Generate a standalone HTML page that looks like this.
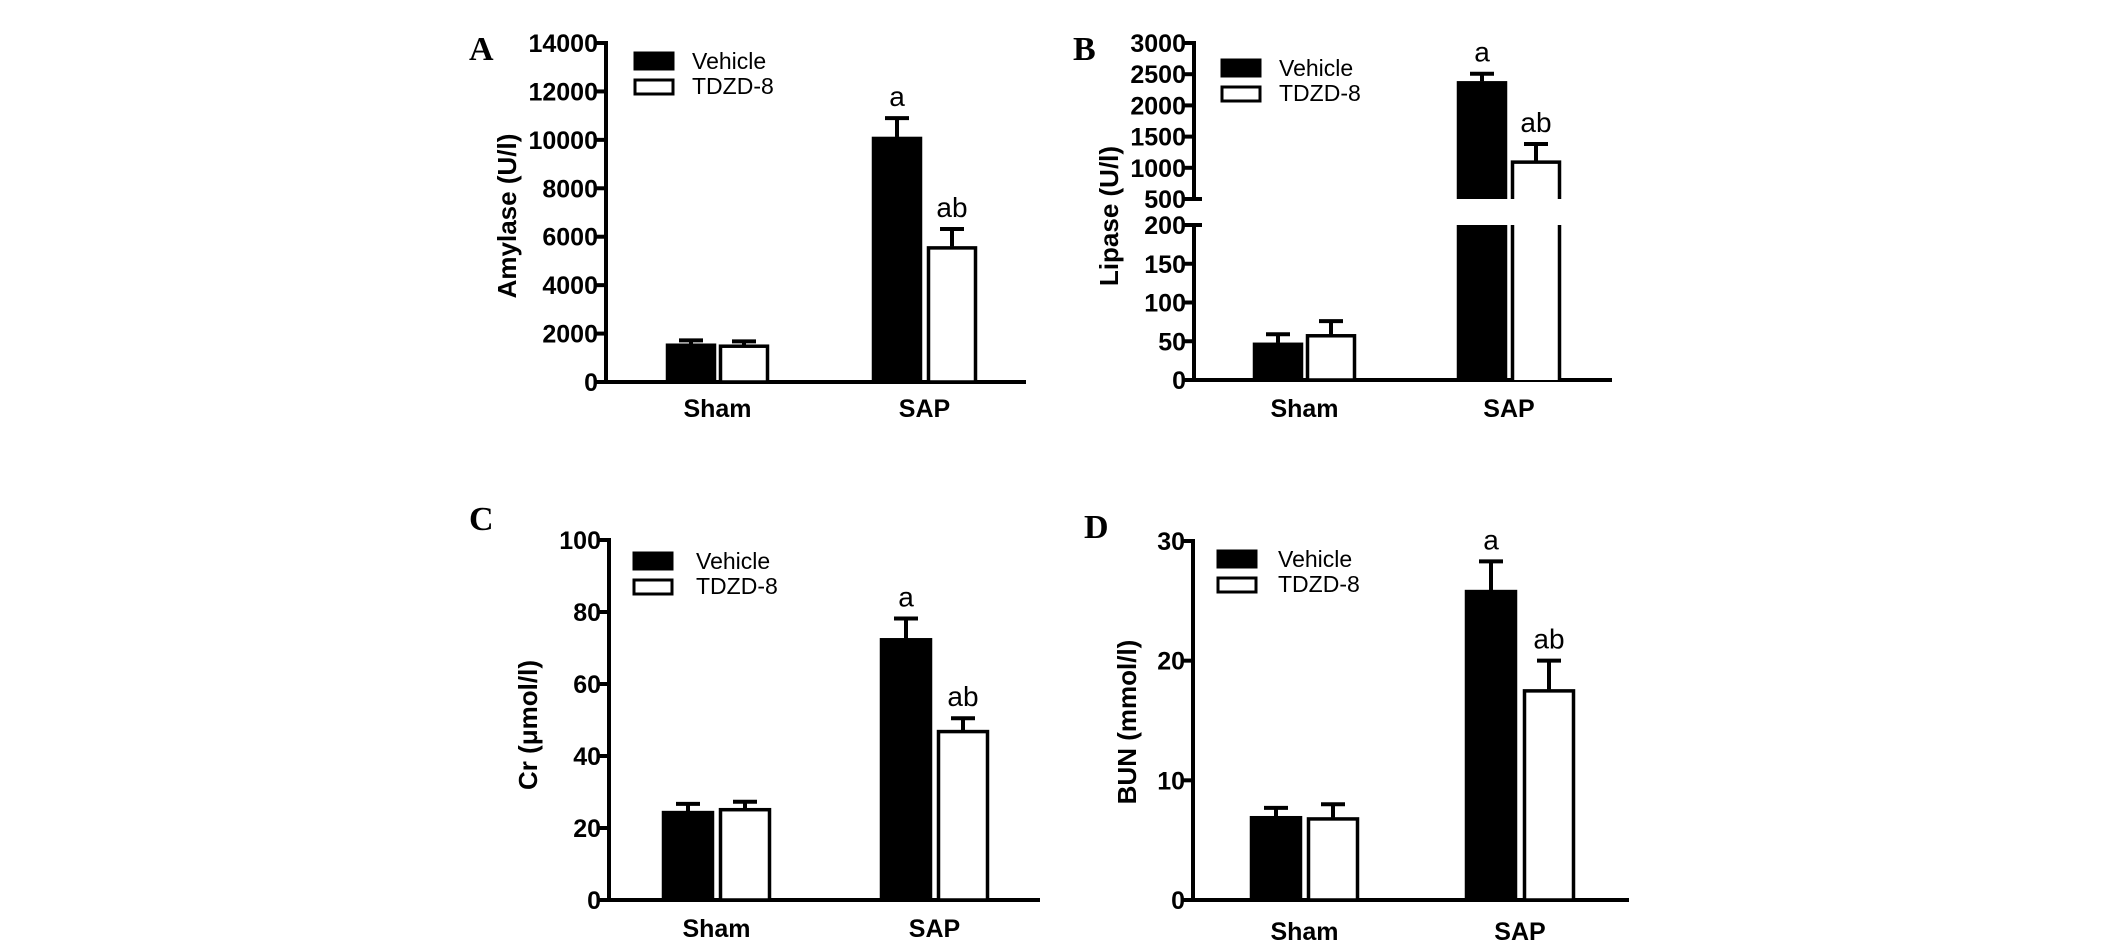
<!DOCTYPE html>
<html><head><meta charset="utf-8"><style>
html,body{margin:0;padding:0;background:#fff;}
svg{display:block;font-family:"Liberation Sans",Arial,sans-serif;}
</style></head><body>
<svg id="fig" width="2126" height="946" viewBox="0 0 2126 946" xmlns="http://www.w3.org/2000/svg"></svg>
<script>
// ---- Data ----
const categories = ["Sham", "SAP"];
const seriesNames = ["Vehicle", "TDZD-8"];
const amylaseVehicle = [1580, 10120];
const amylaseVehicleErr = [1720, 10900];
const amylaseTdzd = [1540, 5600];
const amylaseTdzdErr = [1680, 6320];
const amylaseTicks = [0, 2000, 4000, 6000, 8000, 10000, 12000, 14000];
const lipaseVehicle = [48, 2386];
const lipaseVehicleErr = [59, 2508];
const lipaseTdzd = [59, 1114];
const lipaseTdzdErr = [76, 1381];
const lipaseTicksLow = [0, 50, 100, 150, 200];
const lipaseTicksHigh = [500, 1000, 1500, 2000, 2500, 3000];
const crVehicle = [24.7, 72.7];
const crVehicleErr = [26.7, 78.2];
const crTdzd = [25.5, 47.2];
const crTdzdErr = [27.3, 50.5];
const crTicks = [0, 20, 40, 60, 80, 100];
const bunVehicle = [7.0, 25.9];
const bunVehicleErr = [7.7, 28.3];
const bunTdzd = [6.9, 17.6];
const bunTdzdErr = [8.0, 20.0];
const bunTicks = [0, 10, 20, 30];
const sigVehicle = ["", "a"];
const sigTdzd = ["", "ab"];

const NS = "http://www.w3.org/2000/svg";
const svg = document.getElementById("fig");
function mk(tag, attrs, parent, text) {
  const e = document.createElementNS(NS, tag);
  for (const k in attrs) e.setAttribute(k, attrs[k]);
  if (text !== undefined) e.textContent = text;
  (parent || svg).appendChild(e);
  return e;
}

function linScale(d0, d1, r0, r1) { return v => r0 + (v - d0) / (d1 - d0) * (r1 - r0); }

function drawPanel(p) {
  const g = mk("g", {});
  
  
  const L = mk("text", {x: p.letterX, y: p.letterY, "font-family": "Liberation Serif,serif", "font-weight": "bold", "font-size": 34}, g, p.letter);
  
  
  const ax = mk("g", {stroke: "#000", "stroke-width": 4, fill: "none"}, g);
  
  
  p.axisSegments.forEach(s => mk("line", {x1: p.axisX, y1: s[0], x2: p.axisX, y2: s[1]}, ax));
  mk("line", {x1: p.axisX - 2, y1: p.y0, x2: p.axisEnd, y2: p.y0}, ax);
  p.ticks.forEach(t => {
    const y = p.scale(t);
    mk("line", {x1: p.axisX - 10, y1: y, x2: p.axisX, y2: y, stroke: "#000", "stroke-width": 4}, g);
    const tl = mk("text", {x: p.axisX - 8, y: y + 9, "text-anchor": "end", "font-weight": "bold", "font-size": 25}, g, String(t));
    
    
  });
  (p.breakTicks || []).forEach(t => {
    const y = p.scale(t);
    mk("line", {x1: p.axisX, y1: y, x2: p.axisX + 8, y2: y, stroke: "#000", "stroke-width": 4}, g);
  });
  const yt = mk("text", {x: 0, y: 0, transform: `translate(${p.titleX},${p.titleY}) rotate(-90)`, "text-anchor": "middle", "font-weight": "bold", "font-size": 26}, g, p.title);
  
  
  const series = [
    {vals: p.v1, errs: p.e1, fill: "#000", sig: sigVehicle},
    {vals: p.v2, errs: p.e2, fill: "#fff", sig: sigTdzd}
  ];
  categories.forEach((c, ci) => {
    series.forEach((s, si) => {
      const x0 = p.barX[ci][si], w = p.barW;
      const yTop = p.scale(s.vals[ci]);
      const yErr = p.scale(s.errs[ci]);
      const cx = x0 + w / 2;
      mk("line", {x1: cx, y1: yTop, x2: cx, y2: yErr, stroke: "#000", "stroke-width": 4}, g);
      mk("line", {x1: cx - 12, y1: yErr, x2: cx + 12, y2: yErr, stroke: "#000", "stroke-width": 4}, g);
      let b;
      if (p.gap && yTop < p.gap[0]) {
        b = mk("g", {}, g);
        mk("rect", {x: x0, y: yTop, width: w, height: p.gap[0] - yTop, fill: s.fill}, b);
        mk("rect", {x: x0, y: p.gap[1], width: w, height: p.y0 - p.gap[1], fill: s.fill}, b);
        mk("path", {d: `M${x0+1.5},${p.gap[0]} V${yTop+1.5} H${x0+w-1.5} V${p.gap[0]} M${x0+1.5},${p.gap[1]} V${p.y0} M${x0+w-1.5},${p.gap[1]} V${p.y0}`, fill: "none", stroke: "#000", "stroke-width": 3.5}, b);
      } else {
        b = mk("rect", {x: x0 + 1.5, y: yTop + 1.5, width: w - 3, height: p.y0 - yTop - 1.5, fill: s.fill, stroke: "#000", "stroke-width": 3.5}, g);
      }
      
      
      if (s.sig[ci]) {
        const st = mk("text", {x: cx, y: yErr - 12, "text-anchor": "middle", "font-size": 28}, g, s.sig[ci]);
        
        
      }
    });
    const cl = mk("text", {x: (p.barX[ci][0] + p.barX[ci][1] + p.barW) / 2, y: p.catY, "text-anchor": "middle", "font-weight": "bold", "font-size": 25}, g, c);
    
    
  });
  const lg = mk("g", {}, g);
  
  
  const le1 = mk("g", {}, lg);
  
  
  mk("rect", {x: p.legX, y: p.legY, width: 38, height: 16, fill: "#000", stroke: "#000", "stroke-width": 3}, le1);
  mk("text", {x: p.legTX, y: p.legY + 16, "font-size": 23}, le1, seriesNames[0]);
  const le2 = mk("g", {}, lg);
  
  
  mk("rect", {x: p.legX, y: p.legY + 27, width: 38, height: 14, fill: "#fff", stroke: "#000", "stroke-width": 3}, le2);
  mk("text", {x: p.legTX, y: p.legY + 41, "font-size": 23}, le2, seriesNames[1]);
}

const sA = linScale(0, 14000, 382, 43);
drawPanel({name: "panel-a-amylase", letter: "A", letterX: 469, letterY: 60, axisX: 606, y0: 382, axisEnd: 1026,
  axisSegments: [[41, 384]], scale: sA, ticks: amylaseTicks, title: "Amylase (U/l)", titleX: 516, titleY: 216,
  v1: amylaseVehicle, e1: amylaseVehicleErr, v2: amylaseTdzd, e2: amylaseTdzdErr,
  barX: [[666, 719], [872, 927]], barW: 50, catY: 417, legX: 635, legY: 53, legTX: 692});

const bLow = linScale(0, 200, 380, 225), bHigh = linScale(500, 3000, 199, 43);
const sB = v => v <= 200 ? bLow(v) : (v >= 500 ? bHigh(v) : 212);
drawPanel({name: "panel-b-lipase", letter: "B", letterX: 1073, letterY: 60, axisX: 1194, y0: 380, axisEnd: 1612,
  axisSegments: [[41, 199], [225, 382]], scale: sB, ticks: lipaseTicksLow.concat(lipaseTicksHigh), breakTicks: [200, 500],
  gap: [199, 225], title: "Lipase (U/l)", titleX: 1118, titleY: 216,
  v1: lipaseVehicle, e1: lipaseVehicleErr, v2: lipaseTdzd, e2: lipaseTdzdErr,
  barX: [[1253, 1306], [1457, 1511]], barW: 50, catY: 417, legX: 1222, legY: 60, legTX: 1279});

const sC = linScale(0, 100, 900, 540);
drawPanel({name: "panel-c-creatinine", letter: "C", letterX: 469, letterY: 530, axisX: 609, y0: 900, axisEnd: 1040,
  axisSegments: [[538, 902]], scale: sC, ticks: crTicks, title: "Cr (\u03bcmol/l)", titleX: 537, titleY: 725,
  v1: crVehicle, e1: crVehicleErr, v2: crTdzd, e2: crTdzdErr,
  barX: [[662, 719], [880, 937]], barW: 52, catY: 937, legX: 634, legY: 553, legTX: 696});

const sD = linScale(0, 30, 900, 541);
drawPanel({name: "panel-d-bun", letter: "D", letterX: 1084, letterY: 538, axisX: 1193, y0: 900, axisEnd: 1629,
  axisSegments: [[539, 902]], scale: sD, ticks: bunTicks, title: "BUN (mmol/l)", titleX: 1136, titleY: 722,
  v1: bunVehicle, e1: bunVehicleErr, v2: bunTdzd, e2: bunTdzdErr,
  barX: [[1250, 1307], [1465, 1523]], barW: 52, catY: 940, legX: 1218, legY: 551, legTX: 1278});
</script>
</body></html>
